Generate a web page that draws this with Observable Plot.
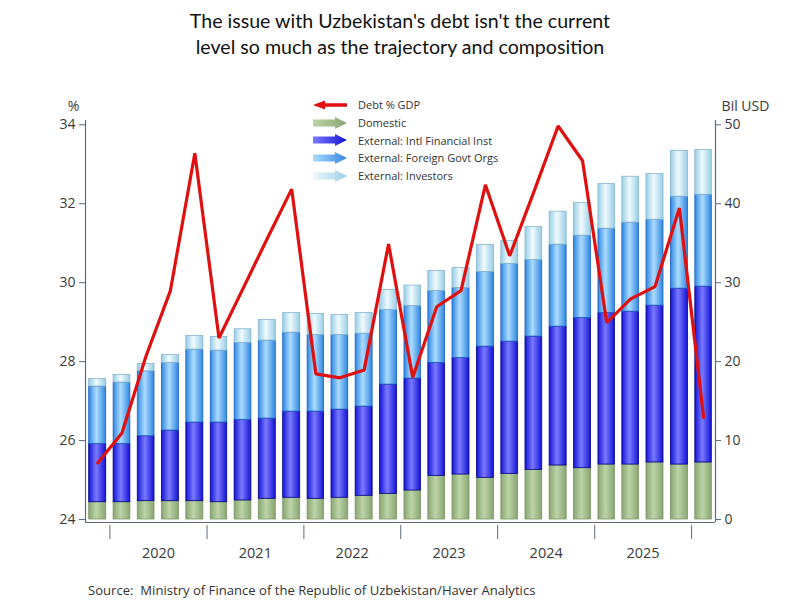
<!DOCTYPE html>
<html>
<head>
<meta charset="utf-8">
<script src="https://cdn.jsdelivr.net/npm/d3@7"></script>
<script src="https://cdn.jsdelivr.net/npm/@observablehq/plot@0.6"></script>
<style>
  html, body { margin: 0; padding: 0; background: #fff; }
  #wrap { position: relative; width: 800px; height: 600px; overflow: hidden; font-family: "Open Sans", "Noto Sans", sans-serif; }
  #title { position: absolute; left: 0; top: 8px; width: 800px; text-align: center; font-family: Lato, "Open Sans", sans-serif; font-size: 19.6px; line-height: 26px; color: #111; }
  #chart { position: absolute; left: 0; top: 90px; }
  #legend { position: absolute; left: 312px; top: 96px; font-size: 11px; color: #333; }
  #legend .row { display: flex; align-items: center; height: 17.7px; }
  #legend svg { width: 36px; height: 14px; margin-right: 10px; }
  #source { position: absolute; left: 88px; top: 581px; font-size: 13.1px; color: #333; white-space: pre; }
</style>
</head>
<body>
<div id="wrap">
  <div id="title">The issue with Uzbekistan's debt isn't the current<br>level so much as the trajectory and composition</div>
  <div id="chart"></div>
  <div id="legend"></div>
  <div id="source">Source:  Ministry of Finance of the Republic of Uzbekistan/Haver Analytics</div>
</div>
<script>
// ---- data ----
const quarters = ["2019Q4",
  "2020Q1","2020Q2","2020Q3","2020Q4",
  "2021Q1","2021Q2","2021Q3","2021Q4",
  "2022Q1","2022Q2","2022Q3","2022Q4",
  "2023Q1","2023Q2","2023Q3","2023Q4",
  "2024Q1","2024Q2","2024Q3","2024Q4",
  "2025Q1","2025Q2","2025Q3","2025Q4",
  "2026Q1"];
// Billion USD
const domestic  = [2.19,2.19,2.32,2.32,2.32,2.19,2.41,2.62,2.75,2.62,2.75,3.00,3.25,3.67,5.53,5.70,5.28,5.78,6.29,6.84,6.50,6.96,6.96,7.22,6.96,7.22];
const extIFI    = [7.39,7.39,8.23,8.95,9.96,10.09,10.21,10.16,10.92,11.05,11.17,11.30,13.84,14.18,14.31,14.77,16.62,16.75,16.88,17.59,19.03,19.20,19.37,19.87,22.28,22.28];
const extFGO    = [7.26,7.76,8.22,8.56,9.24,9.11,9.75,9.88,10.00,9.71,9.46,9.24,9.45,9.20,9.11,8.86,9.46,9.84,9.70,10.38,10.42,10.68,11.27,10.88,11.65,11.64];
const extInv    = [0.97,0.97,0.93,1.01,1.73,1.73,1.73,2.61,2.49,2.66,2.53,2.62,2.53,2.59,2.53,2.53,3.41,2.91,4.18,4.18,4.14,5.65,5.82,5.79,5.81,5.66];
// Percent of GDP
const debtPctGDP = [25.43,26.19,28.15,29.80,33.28,28.60,29.85,31.12,32.37,27.69,27.59,27.79,30.98,27.60,29.39,29.80,32.48,30.68,32.30,33.97,33.09,28.99,29.59,29.90,31.89,26.59];

const seriesNames = ["Domestic","External: Intl Financial Inst","External: Foreign Govt Orgs","External: Investors"];
const seriesKeys = ["dom","ifi","fgo","inv"];
const seriesValues = [domestic, extIFI, extFGO, extInv];
const years = [2020, 2021, 2022, 2023, 2024, 2025];
const leftTicks = [24, 26, 28, 30, 32, 34];
const rightTicks = [0, 10, 20, 30, 40, 50];
const leftMin = 24, leftMax = 34, rightMax = 50;

// ---- styles ----
const palette = {
  dom: {edge: "#8aa574", mid: "#bcd4a6", line: "#7a9563"},
  ifi: {edge: "#1414d6", mid: "#7a7aff", line: "#00008a"},
  fgo: {edge: "#2f86e0", mid: "#acdcff", line: "#1d62c4"},
  inv: {edge: "#98cde6", mid: "#f0fafd", line: "#86b6d0"}
};

// ---- derived tables ----
const qStart = q => new Date(Date.UTC(+q.slice(0, 4), (+q.slice(5) - 1) * 3, 1));
const qEnd = q => d3.utcMonth.offset(qStart(q), 3);
const qMid = q => new Date((+qStart(q) + +qEnd(q)) / 2);

const bars = [];
seriesKeys.forEach((k, s) => {
  quarters.forEach((q, i) => bars.push({q, key: k, series: seriesNames[s], value: seriesValues[s][i]}));
});
const debt = quarters.map((q, i) => ({q, pct: debtPctGDP[i]}));
const toRight = p => (p - leftMin) / (leftMax - leftMin) * rightMax;   // map % onto USD scale
const toLeft = v => leftMin + v / rightMax * (leftMax - leftMin);

const xDomain = [qStart(quarters[0]), qEnd(quarters[quarters.length - 1])];
const yearStarts = years.map(y => new Date(Date.UTC(y, 0, 1))).concat([new Date(Date.UTC(years[years.length - 1] + 1, 0, 1))]);
const yearMids = years.map(y => new Date(Date.UTC(y, 6, 2)));

const defs = () => {
  const d = d3.create("svg:defs");
  for (const k of seriesKeys) {
    const g = d.append("linearGradient").attr("id", "grad-" + k).attr("x1", "0").attr("x2", "1").attr("y1", "0").attr("y2", "0");
    g.append("stop").attr("offset", "0%").attr("stop-color", palette[k].edge);
    g.append("stop").attr("offset", "45%").attr("stop-color", palette[k].mid);
    g.append("stop").attr("offset", "100%").attr("stop-color", palette[k].edge);
  }
  return d.node();
};

const axisStroke = "#5d6b7a";
const textColor = "#3a3a3a";

const chart = Plot.plot({
  width: 800,
  height: 480,
  marginTop: 30,
  marginBottom: 48,
  marginLeft: 85,
  marginRight: 85,
  style: {fontFamily: '"Open Sans", "Noto Sans", sans-serif', fontSize: "14px", background: "white", color: textColor},
  x: {type: "utc", domain: xDomain},
  y: {domain: [0, rightMax], insetTop: 4.3, insetBottom: 3},
  marks: [
    defs,
    Plot.rectY(bars, {
      x1: d => qStart(d.q),
      x2: d => qEnd(d.q),
      y: "value",
      fill: {value: d => `url(#grad-${d.key})`, scale: null},
      stroke: {value: d => palette[d.key].line, scale: null},
      strokeWidth: 0.8,
      insetLeft: 3.7,
      insetRight: 3.7
    }),
    Plot.line(debt, {x: d => qMid(d.q), y: d => toRight(d.pct), stroke: "#e01010", strokeWidth: 3.2, strokeLinejoin: "miter"}),
    Plot.ruleX([xDomain[0]], {stroke: axisStroke, strokeWidth: 1.2}),
    Plot.ruleX([xDomain[1]], {stroke: axisStroke, strokeWidth: 1.2}),
    Plot.ruleY([0], {stroke: axisStroke, strokeWidth: 1.2, dy: 3}),
    Plot.axisY({anchor: "left", ticks: rightTicks, tickFormat: v => toLeft(v), tickSize: 6, tickPadding: 4, stroke: axisStroke, fill: textColor, label: null, fontSize: 14}),
    Plot.axisY({anchor: "right", ticks: rightTicks, tickFormat: v => v, tickSize: 5, tickPadding: 4, stroke: axisStroke, fill: textColor, label: null, fontSize: 14}),
    Plot.axisX({ticks: yearStarts, tickFormat: () => "", tickSize: 14, dy: 3, stroke: axisStroke, label: null}),
    Plot.axisX({ticks: yearMids, tickFormat: d => String(d.getUTCFullYear()), tickSize: 0, tickPadding: 25, fill: textColor, label: null, fontSize: 14.5}),
    Plot.text(["%"], {frameAnchor: "top-left", dx: -12, dy: -19, fill: textColor, fontSize: 14, textAnchor: "middle"}),
    Plot.text(["Bil USD"], {frameAnchor: "top-right", dx: 30, dy: -19, fill: textColor, fontSize: 14, textAnchor: "middle"})
  ]
});
document.getElementById("chart").append(chart);

// ---- legend ----
const legend = d3.select("#legend");
const legendItems = [{name: "Debt % GDP", key: "debt"}].concat(seriesKeys.map((k, i) => ({name: seriesNames[i], key: k})));
legendItems.forEach(item => {
  const row = legend.append("div").attr("class", "row");
  const s = row.append("svg").attr("viewBox", "0 0 36 14");
  if (item.key === "debt") {
    s.append("path").attr("d", "M1,7 L13,2.5 L13,5.3 L35,5.3 L35,8.7 L13,8.7 L13,11.5 Z").attr("fill", "#e01010");
  } else {
    const c = palette[item.key];
    const gid = "lg-" + item.key;
    const g2 = s.append("defs").append("linearGradient").attr("id", gid + "h").attr("x1", 0).attr("x2", 1).attr("y1", 0).attr("y2", 0);
    g2.append("stop").attr("offset", "0%").attr("stop-color", c.mid);
    g2.append("stop").attr("offset", "100%").attr("stop-color", c.edge);
    s.append("path").attr("d", "M1,3.5 L23,3.5 L23,1 L35,7 L23,13 L23,10.5 L1,10.5 Z").attr("fill", `url(#${gid}h)`);
  }
  row.append("span").text(item.name);
});
</script>
</body>
</html>
